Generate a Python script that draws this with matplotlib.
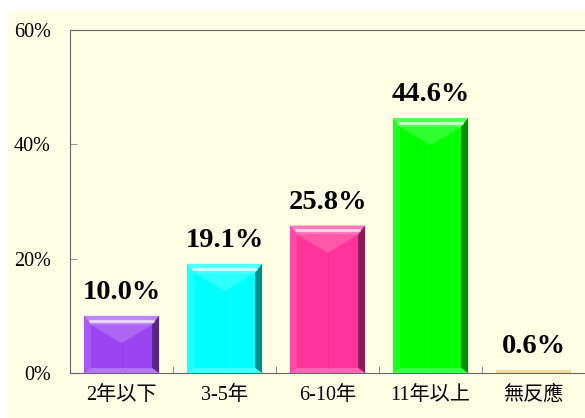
import matplotlib
matplotlib.use("Agg")
import matplotlib.pyplot as plt
from matplotlib.patches import Polygon, Rectangle
from matplotlib.colors import to_rgb

categories = ["2年以下", "3-5年", "6-10年", "11年以上", "無反應"]
values = [10.0, 19.1, 25.8, 44.6, 0.6]
labels = ["10.0%", "19.1%", "25.8%", "44.6%", "0.6%"]
bar_colors = ["#9B45F2", "#00FFFF", "#FF3399", "#00FF00", "#F2DC98"]
yticks = [0, 20, 40, 60]
ytick_labels = ["0%", "20%", "40%", "60%"]

fonts = ["Liberation Serif", "Noto Sans CJK TC", "DejaVu Sans"]
plt.rcParams["font.family"] = fonts

def mix(c, other, t):
    a = to_rgb(c)
    b = to_rgb(other)
    return tuple(a[i] * (1 - t) + b[i] * t for i in range(3))

fig = plt.figure(figsize=(5.85, 4.18), dpi=100)
fig.patch.set_facecolor("white")
# cream panel behind everything
fig.patches.append(Rectangle((8 / 585, 0), 1, (418 - 11) / 418, transform=fig.transFigure,
                             facecolor="#FFFFE6", edgecolor="none", zorder=-10))

ax = fig.add_axes([70 / 585, 45 / 418, 515 / 585, 343 / 418])
ax.set_facecolor("none")
ax.set_xlim(-0.5, len(categories) - 0.5)
ax.set_ylim(0, 60)

x = list(range(len(categories)))
width = 0.73
bars = ax.bar(x, values, width=width, color=bar_colors, edgecolor="none", zorder=2)

# pixel -> data sizes for the bevel
px_x = 1.0 / (515 / 5)
px_y = 60.0 / 343

for b, c in zip(bars, bar_colors):
    x0 = b.get_x()
    x1 = x0 + b.get_width()
    y0 = 0
    y1 = b.get_height()
    h_px = y1 / px_y
    if h_px < 12:
        continue
    sx = 7 * px_x
    st = 9 * px_y
    sb = 5 * px_y
    light = mix(c, "white", 0.35)
    dark = mix(c, "black", 0.45)
    mid = mix(c, "black", 0.15)
    # top bevel
    ax.add_patch(Polygon([(x0, y1), (x1, y1), (x1 - sx, y1 - st), (x0 + sx, y1 - st)],
                         closed=True, facecolor=light, edgecolor="none", zorder=3))
    ax.plot([x0 + sx * 0.7, x1 - sx * 0.7], [y1 - st * 0.55, y1 - st * 0.55],
            color=mix(c, "white", 0.8), lw=2, zorder=4, solid_capstyle="butt")
    # right bevel
    ax.add_patch(Polygon([(x1, y1), (x1, y0), (x1 - sx, y0 + sb), (x1 - sx, y1 - st)],
                         closed=True, facecolor=dark, edgecolor="none", zorder=3))
    # left bevel
    ax.add_patch(Polygon([(x0, y1), (x0, y0), (x0 + sx, y0 + sb), (x0 + sx, y1 - st)],
                         closed=True, facecolor=mix(c, "white", 0.12), edgecolor="none", zorder=3))
    # bottom bevel
    ax.add_patch(Polygon([(x0, y0), (x1, y0), (x1 - sx, y0 + sb), (x0 + sx, y0 + sb)],
                         closed=True, facecolor=mix(c, "white", 0.25), edgecolor="none", zorder=3))
    # inner triangle below top bevel
    cx = (x0 + x1) / 2
    tri_h = min((x1 - x0 - 2 * sx) / 2 * (px_y / px_x) * 0.6, y1 - st - sb)
    ax.add_patch(Polygon([(x0 + sx, y1 - st), (x1 - sx, y1 - st), (cx, y1 - st - tri_h)],
                         closed=True, facecolor=mix(c, "white", 0.18), edgecolor="none", zorder=3))
    # faint vertical center line
    ax.plot([cx, cx], [y0 + sb, y1 - st - tri_h], color=mid, lw=0.8, alpha=0.4, zorder=3)

for b, lab in zip(bars, labels):
    ax.annotate(lab, (b.get_x() + b.get_width() / 2, b.get_height()),
                xytext=(0, 12), textcoords="offset points", ha="center", va="baseline",
                fontsize=20.5, fontweight="bold", family=fonts, zorder=5)

ax.set_yticks(yticks)
ax.set_yticklabels(ytick_labels, fontsize=14.5)
ax.set_xticks(x)
ax.set_xticklabels(categories, fontsize=14.5)
ax.set_xticks([i + 0.5 for i in range(len(categories) - 1)], minor=True)
ax.tick_params(axis="x", which="major", length=0, pad=9)
ax.tick_params(axis="x", which="minor", direction="in", length=5, color="#777777")
ax.tick_params(axis="y", direction="in", length=5, color="#999999", pad=14)

for name in ["left", "top", "bottom"]:
    ax.spines[name].set_linestyle((0, (1, 1)))
    ax.spines[name].set_color("#666666")
    ax.spines[name].set_linewidth(0.8)
ax.spines["right"].set_visible(False)

fig.savefig("out.png", dpi=100)
